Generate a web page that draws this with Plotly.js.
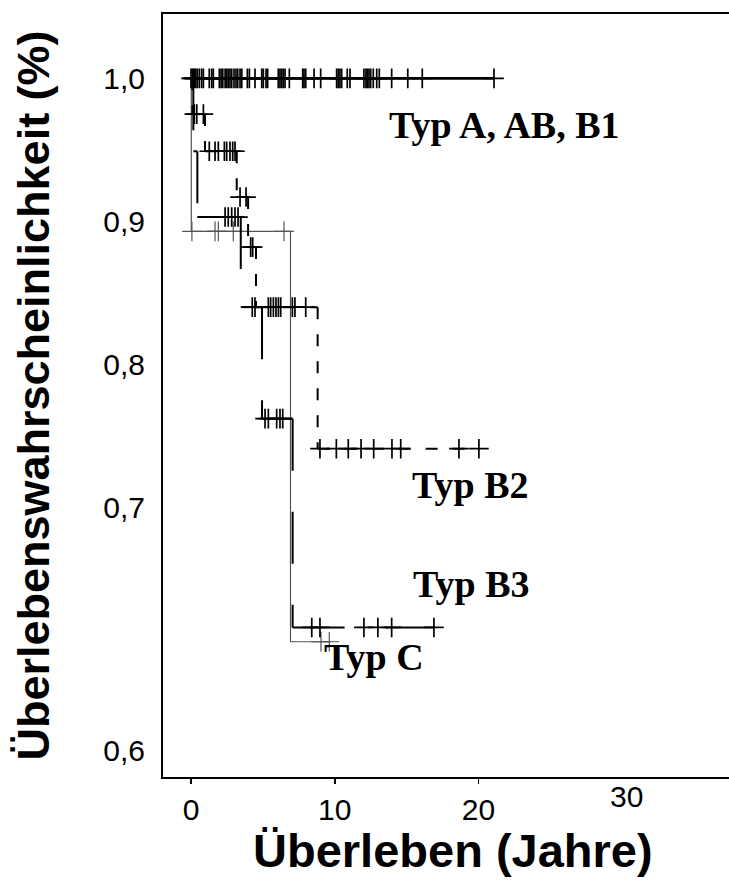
<!DOCTYPE html>
<html><head><meta charset="utf-8">
<script src="https://cdn.plot.ly/plotly-3.0.1.min.js"></script>
<style>html,body{margin:0;padding:0;background:#fff}</style>
</head><body><div id="chart" style="width:729px;height:890px"></div>
<script>
// ---- Typ A, AB, B1 (no events, all censored) ----
const aEventTimes = [];
const aSurvival = [];
const aCensorTimes = [0, 0.09, 0.16, 0.23, 0.33, 0.44, 0.58, 0.74, 0.86, 1.27, 1.44, 1.55, 1.97, 2.09, 2.21, 2.37, 2.48, 2.59, 2.71, 2.83, 2.99, 3.13, 3.25, 3.41, 3.53, 3.92, 4.06, 4.45, 4.92, 5.03, 5.22, 5.33, 6.07, 6.19, 6.31, 6.42, 6.54, 6.84, 7.77, 7.86, 7.98, 8.56, 9.02, 10.13, 10.24, 10.36, 10.48, 10.87, 11.06, 12.03, 12.17, 12.26, 12.38, 12.5, 12.68, 12.92, 13.1, 13.96, 15.08, 16.09, 21.08];

// ---- Typ B2 (dashed) ----
const b2EventTimes = [0.1, 0.97, 3.18, 3.97, 4.52, 8.81];
const b2Survival = [0.975, 0.949, 0.917, 0.882, 0.840, 0.741];
const b2CensorTimes = [0.23, 0.40, 0.86, 1.27, 1.67, 1.9, 2.32, 2.48, 2.71, 2.9, 3.06, 3.41, 3.83, 4.15, 4.29, 5.38, 5.54, 5.73, 5.91, 6.08, 6.24, 7.05, 7.23, 7.98, 8.97, 10.11, 10.94, 11.83, 12.71, 13.98, 14.59, 18.64, 20.03];

// ---- Typ B3 (long dash) ----
const b3EventTimes = [0.16, 0.44, 3.46, 4.94, 7.07];
const b3Survival = [0.949, 0.903, 0.840, 0.762, 0.616];
const b3CensorTimes = [2.37, 2.59, 2.83, 3.06, 3.27, 4.26, 4.45, 5.15, 5.38, 5.96, 6.19, 6.38, 8.40, 8.97, 12.03, 13.0, 13.96, 16.9];

// ---- Typ C (thin grey) ----
const cEventTimes = [0.02, 6.92];
const cSurvival = [0.893, 0.606];
const cCensorTimes = [0.06, 1.67, 1.9, 2.94, 6.47, 9.04, 9.62];

// ---- axis ticks ----
const xTickVals = [0, 10, 20];
const xTickText = ['0', '10', '20'];
const yTickVals = [1.0, 0.9, 0.8, 0.7, 0.53];
const yTickText = ['1,0', '0,9', '0,8', '0,7', '0,6'];

function survAt(events, surv, t) {
  let s = 1.0;
  for (let i = 0; i < events.length; i++) if (events[i] <= t) s = surv[i];
  return s;
}
function endTime(events, censors) {
  return Math.max(events.length ? events[events.length-1] : 0, censors.length ? censors[censors.length-1] : 0);
}
function stepPath(events, surv, censors) {
  const x = [0], y = [1.0];
  let s = 1.0;
  for (let i = 0; i < events.length; i++) {
    x.push(events[i]); y.push(s);
    s = surv[i];
    x.push(events[i]); y.push(s);
  }
  x.push(endTime(events, censors)); y.push(s);
  return {x, y};
}
// each horizontal / vertical piece as its own sub-path (dash pattern restarts per piece)
function segmentPath(events, surv, censors) {
  const x = [], y = [];
  let t0 = 0, s = 1.0;
  for (let i = 0; i < events.length; i++) {
    x.push(t0, events[i], null); y.push(s, s, null);
    x.push(events[i], events[i], null); y.push(s, surv[i], null);
    t0 = events[i]; s = surv[i];
  }
  x.push(t0, endTime(events, censors)); y.push(s, s);
  return {x, y};
}
function curveTraces(events, surv, censors, color, width, dash, segmented, mwidth) {
  const p = segmented ? segmentPath(events, surv, censors) : stepPath(events, surv, censors);
  return [
    {type:'scatter', mode:'lines', x:p.x, y:p.y, connectgaps:false,
     line:{color:color, width:width, dash:dash}, hoverinfo:'skip'},
    {type:'scatter', mode:'markers', x:censors, y:censors.map(t => survAt(events, surv, t)),
     marker:{symbol:'cross-thin', size:14, color:color, line:{color:color, width:mwidth}}, hoverinfo:'skip'}
  ];
}

const data = [].concat(
  curveTraces(cEventTimes, cSurvival, cCensorTimes, '#555555', 1.2, 'solid', false, 1.2),
  curveTraces(b3EventTimes, b3Survival, b3CensorTimes, '#000000', 2, '52px,41px', true, 1.7),
  curveTraces(b2EventTimes, b2Survival, b2CensorTimes, '#000000', 2, '12px,15px', true, 1.7),
  curveTraces(aEventTimes, aSurvival, aCensorTimes, '#000000', 2.6, 'solid', false, 1.7)
);

const serif = '"Liberation Serif", "Times New Roman", serif';
const labelFont = {family: serif, size: 38, color: '#000'};
const layout = {
  width: 729, height: 890,
  margin: {l: 163, r: 0, t: 14, b: 113, pad: 0},
  paper_bgcolor: '#ffffff', plot_bgcolor: '#ffffff',
  showlegend: false,
  font: {family: '"Liberation Sans", Arial, sans-serif', color: '#000'},
  xaxis: {
    range: [-1.95, 37.43], tickvals: xTickVals, ticktext: xTickText,
    ticks: 'outside', ticklen: 5, tickwidth: 1.5, tickcolor: '#000',
    showline: true, linewidth: 2, linecolor: '#000', mirror: true,
    showgrid: false, zeroline: false, tickfont: {size: 30}
  },
  yaxis: {
    range: [0.5114, 1.045], tickvals: yTickVals, ticktext: yTickText,
    ticks: '', showline: true, linewidth: 2, linecolor: '#000', mirror: false,
    showgrid: false, zeroline: false, tickfont: {size: 30}, ticklabelstandoff: 10,
    title: {text: '<b>Überlebenswahrscheinlichkeit (%)</b>', font: {size: 45}, standoff: 40}
  },
  annotations: [
    {text: '<b>Überleben (Jahre)</b>', x: 0.5124, y: -0.0957, xref: 'paper', yref: 'paper', xanchor: 'center', yanchor: 'middle', showarrow: false, font: {size: 47, color: '#000'}},
    {text: '<b>Typ A, AB, B1</b>', x: 13.63, y: 0.9673, xref: 'x', yref: 'y', xanchor: 'left', yanchor: 'middle', showarrow: false, font: labelFont},
    {text: '<b>Typ B2</b>', x: 15.23, y: 0.7156, xref: 'x', yref: 'y', xanchor: 'left', yanchor: 'middle', showarrow: false, font: labelFont},
    {text: '<b>Typ B3</b>', x: 15.30, y: 0.6463, xref: 'x', yref: 'y', xanchor: 'left', yanchor: 'middle', showarrow: false, font: labelFont},
    {text: '<b>Typ C</b>', x: 9.11, y: 0.5953, xref: 'x', yref: 'y', xanchor: 'left', yanchor: 'middle', showarrow: false, font: labelFont},
    {text: '30', x: 30.33, y: -0.025, xref: 'x', yref: 'paper', xanchor: 'center', yanchor: 'middle', showarrow: false, font: {size: 30, color: '#000'}}
  ]
};
Plotly.newPlot('chart', data, layout, {displayModeBar: false, staticPlot: true});
</script>
</body></html>
